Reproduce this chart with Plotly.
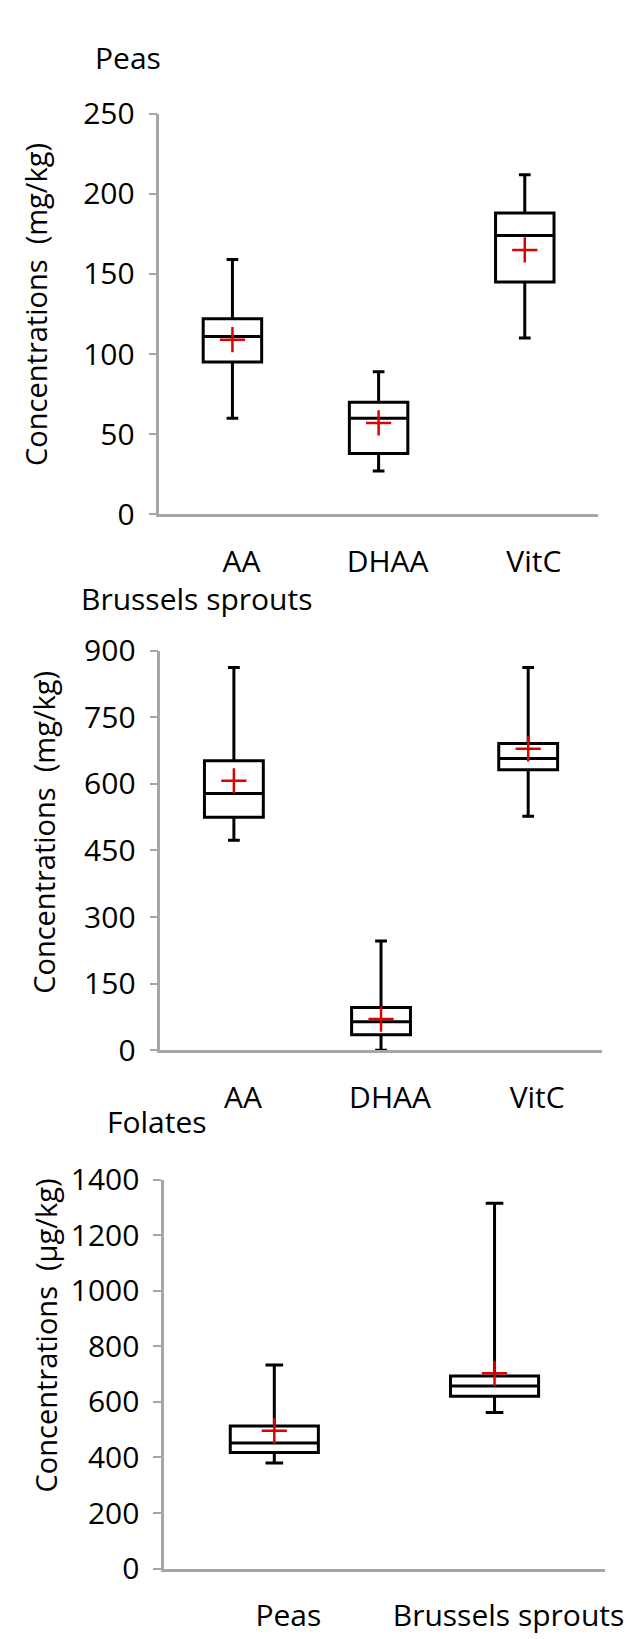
import plotly.graph_objects as go

W, H = 637, 1639

# ---- data ----
vit_categories = ["AA", "DHAA", "VitC"]

peas_upper = [159, 89, 212]
peas_q3 = [122, 70, 188]
peas_median = [111, 60, 174]
peas_q1 = [95, 38, 145]
peas_lower = [60, 27, 110]
peas_mean = [109, 57, 165]

bs_upper = [862, 246, 862]
bs_q3 = [652, 96, 691]
bs_median = [578, 64, 657]
bs_q1 = [525, 35, 632]
bs_lower = [473, 0, 527]
bs_mean = [607, 70, 679]

fol_categories = ["Peas", "Brussels sprouts"]
fol_upper = [733, 1315]
fol_q3 = [513, 693]
fol_median = [452, 657]
fol_q1 = [418, 620]
fol_lower = [380, 562]
fol_mean = [496, 703]

panel_titles = ["Peas", "Brussels sprouts", "Folates"]
y_titles = ["Concentrations \u00a0(mg/kg)", "Concentrations \u00a0(mg/kg)", "Concentrations \u00a0(µg/kg)"]
y_ranges = [[0, 250], [0, 900], [0, 1400]]
y_dticks = [50, 150, 200]

FONT = "Open Sans"
FS = 30
AXIS_COL = "#a6a6a6"

fig = go.Figure()

panels = [
    (vit_categories, peas_q1, peas_median, peas_q3, peas_lower, peas_upper, peas_mean, "x", "y"),
    (vit_categories, bs_q1, bs_median, bs_q3, bs_lower, bs_upper, bs_mean, "x2", "y2"),
    (fol_categories, fol_q1, fol_median, fol_q3, fol_lower, fol_upper, fol_mean, "x3", "y3"),
]

for cats, q1, med, q3, lo, up, mean, xa, ya in panels:
    fig.add_trace(go.Box(
        x=cats, q1=q1, median=med, q3=q3, lowerfence=lo, upperfence=up,
        boxpoints=False, width=0.4, whiskerwidth=0.2,
        fillcolor="white", line=dict(color="black", width=3),
        xaxis=xa, yaxis=ya, showlegend=False, hoverinfo="skip",
    ))
    fig.add_trace(go.Scatter(
        x=cats, y=mean, mode="markers",
        marker=dict(symbol="cross-thin", size=18, line=dict(color="#e00000", width=2.5)),
        xaxis=xa, yaxis=ya, showlegend=False, hoverinfo="skip",
    ))

# pixel layout (top, bottom of plot area; left, right)
px_y = [(86, 497), (637, 1047), (1180, 1579)]
px_x = [(156, 608), (157, 612), (161, 615)]
ncats = [3, 3, 2]
label_shift = [9, 9, 14]

layout = dict(
    width=W, height=H, margin=dict(l=0, r=0, t=0, b=0),
    paper_bgcolor="white", plot_bgcolor="white",
    font=dict(family=FONT, size=FS, color="black"),
    showlegend=False,
)
for i in range(3):
    sfx = "" if i == 0 else str(i + 1)
    top, bot = px_y[i]
    left, right = px_x[i]
    layout["xaxis" + sfx] = dict(
        domain=[left / W, right / W], anchor="y" + sfx, type="category",
        range=[-0.5, ncats[i] - 0.5],
        showline=True, linecolor=AXIS_COL, linewidth=2.5,
        ticks="outside", ticklen=1, tickcolor="rgba(0,0,0,0)",
        ticklabelstandoff=18, ticklabelshift=label_shift[i],
        showgrid=False, zeroline=False,
        tickfont=dict(family=FONT, size=FS, color="black"),
    )
    layout["yaxis" + sfx] = dict(
        domain=[1 - bot / H, 1 - top / H], anchor="x" + sfx,
        range=y_ranges[i], dtick=y_dticks[i], tick0=0,
        showline=True, linecolor=AXIS_COL, linewidth=2.5,
        ticks="outside", ticklen=8, tickcolor=AXIS_COL, tickwidth=2,
        ticklabelstandoff=8,
        showgrid=False, zeroline=False,
        tickfont=dict(family=FONT, size=FS, color="black"),
    )

fig.update_layout(**layout)

title_pos = [(88, 28), (73, 583), (100, 1120)]
ytitle_pos = [(29, 282), (37, 823), (39, 1340)]
for i in range(3):
    tx, ty = title_pos[i]
    fig.add_annotation(text=panel_titles[i], x=tx / W, y=1 - ty / H, xref="paper", yref="paper",
                       xanchor="left", yanchor="middle", showarrow=False,
                       font=dict(family=FONT, size=FS, color="black"))
    yx, yy = ytitle_pos[i]
    fig.add_annotation(text=y_titles[i], x=yx / W, y=1 - yy / H, xref="paper", yref="paper",
                       xanchor="center", yanchor="middle", textangle=-90, showarrow=False,
                       font=dict(family=FONT, size=29, color="black"))

fig.write_html("out.html")
